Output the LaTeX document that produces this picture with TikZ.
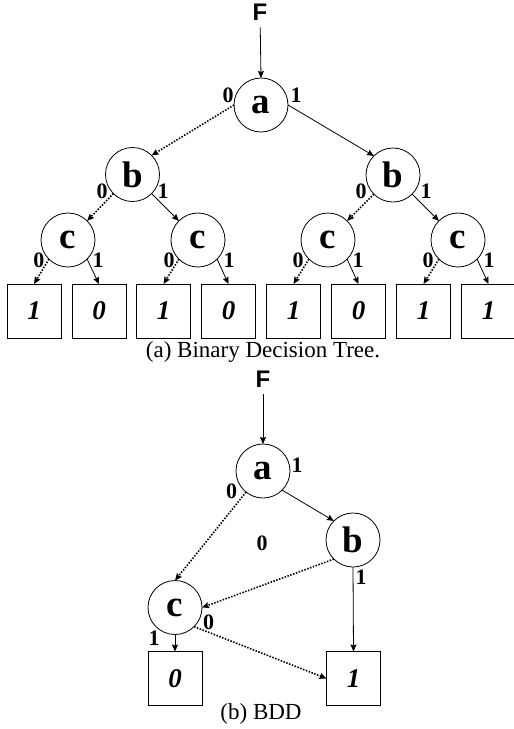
\documentclass[tikz,border=0pt]{standalone}
\usepackage{fontspec}
\setmainfont{Liberation Serif}
\newfontfamily\sansF{Liberation Sans}
\usetikzlibrary{arrows.meta}
\begin{document}
\begin{tikzpicture}[x=1pt,y=-1pt,
  every node/.style={inner sep=0pt, outer sep=0pt},
  vnode/.style={draw, circle, minimum size=54pt, line width=0.8pt, font=\fontsize{37}{37}\selectfont\bfseries},
  leaf/.style={draw, minimum size=54pt, line width=0.8pt, font=\fontsize{27}{27}\selectfont\bfseries\itshape},
  lbl/.style={font=\fontsize{22}{22}\selectfont\bfseries},
  fnode/.style={font=\fontsize{24}{24}\selectfont\sansF\bfseries, inner ysep=7pt},
  capt/.style={font=\fontsize{23}{23}\selectfont},
  hi/.style={-{Stealth[length=7pt,width=6pt,inset=1pt]}, line width=0.8pt},
  lo/.style={-{Stealth[length=7pt,width=6pt,inset=1pt]}, line width=1.6pt, dash pattern=on 1.5pt off 1.5pt}
]
\useasboundingbox (0,0) rectangle (514,729);
% ---------- (a) Binary decision tree ----------
\node[fnode] (F1) at (260,12) {F};
\node[vnode] (a1) at (261,105) {a};
\node[vnode] (bL) at (132.5,174.5) {b};
\node[vnode] (bR) at (393,175) {b};
\node[vnode] (c1) at (68,240) {c};
\node[vnode] (c2) at (198,240) {c};
\node[vnode] (c3) at (328,240) {c};
\node[vnode] (c4) at (458,240) {c};
\node[leaf] (l1) at (34,311) {1};
\node[leaf] (l2) at (99,311) {0};
\node[leaf] (l3) at (163.5,311) {1};
\node[leaf] (l4) at (228.5,311) {0};
\node[leaf] (l5) at (293.5,311) {1};
\node[leaf] (l6) at (358.5,311) {0};
\node[leaf] (l7) at (423.5,311) {1};
\node[leaf] (l8) at (488.5,311) {1};

\draw[hi] (F1) -- (a1.north);
\draw[lo] (a1.west) -- (bL.north east);
\draw[hi] (a1.east) -- (bR.north west);
\draw[lo] (bL.south west) -- (c1.north east);
\draw[hi] (bL.south east) -- (c2.north west);
\draw[lo] (bR.south west) -- (c3.north east);
\draw[hi] (bR.south east) -- (c4.north west);
\draw[lo] (c1.south west) -- (l1.north);
\draw[hi] (c1.south east) -- (l2.north);
\draw[lo] (c2.south west) -- (l3.north);
\draw[hi] (c2.south east) -- (l4.north);
\draw[lo] (c3.south west) -- (l5.north);
\draw[hi] (c3.south east) -- (l6.north);
\draw[lo] (c4.south west) -- (l7.north);
\draw[hi] (c4.south east) -- (l8.north);

\node[lbl] (t1) at (228,95) {0};
\node[lbl] (t2) at (296,95) {1};
\node[lbl] (t3) at (102,191) {0};
\node[lbl] (t4) at (163,191) {1};
\node[lbl] (t5) at (361,191) {0};
\node[lbl] (t6) at (426,191) {1};
\node[lbl] (t7) at (39,260) {0};
\node[lbl] (t8) at (98,260) {1};
\node[lbl] (t9) at (169,260) {0};
\node[lbl] (t10) at (229,260) {1};
\node[lbl] (t11) at (298,260) {0};
\node[lbl] (t12) at (358,260) {1};
\node[lbl] (t13) at (428,260) {0};
\node[lbl] (t14) at (489,260) {1};

\node[capt, anchor=base] (capA) at (263,357) {(a) Binary Decision Tree.};

% ---------- (b) BDD ----------
\node[fnode] (F2) at (263,379) {F};
\node[vnode] (a2) at (263,471) {a};
\node[vnode] (b2) at (353,540) {b};
\node[vnode] (c5) at (175,607.5) {c};
\node[leaf] (z0) at (175,678.5) {0};
\node[leaf] (z1) at (353.5,678.5) {1};

\draw[hi] (F2) -- (a2.north);
\draw[hi] (a2.south east) -- (b2.north west);
\draw[lo] (a2) -- (c5.north);
\draw[lo] (b2.south west) -- (c5.east);
\draw[hi] (b2.south) -- (z1.north);
\draw[hi] (c5.south) -- (z0.north);
\draw[lo] (c5.south east) -- (z1.west);

\node[lbl] (u1) at (297,465) {1};
\node[lbl] (u2) at (231.5,491.5) {0};
\node[lbl] (u3) at (262,543.5) {0};
\node[lbl] (u4) at (361,577) {1};
\node[lbl] (u5) at (154,638) {1};
\node[lbl] (u6) at (208.5,622) {0};

\node[capt, anchor=base] (capB) at (261,719) {(b) BDD};
\end{tikzpicture}
\end{document}
